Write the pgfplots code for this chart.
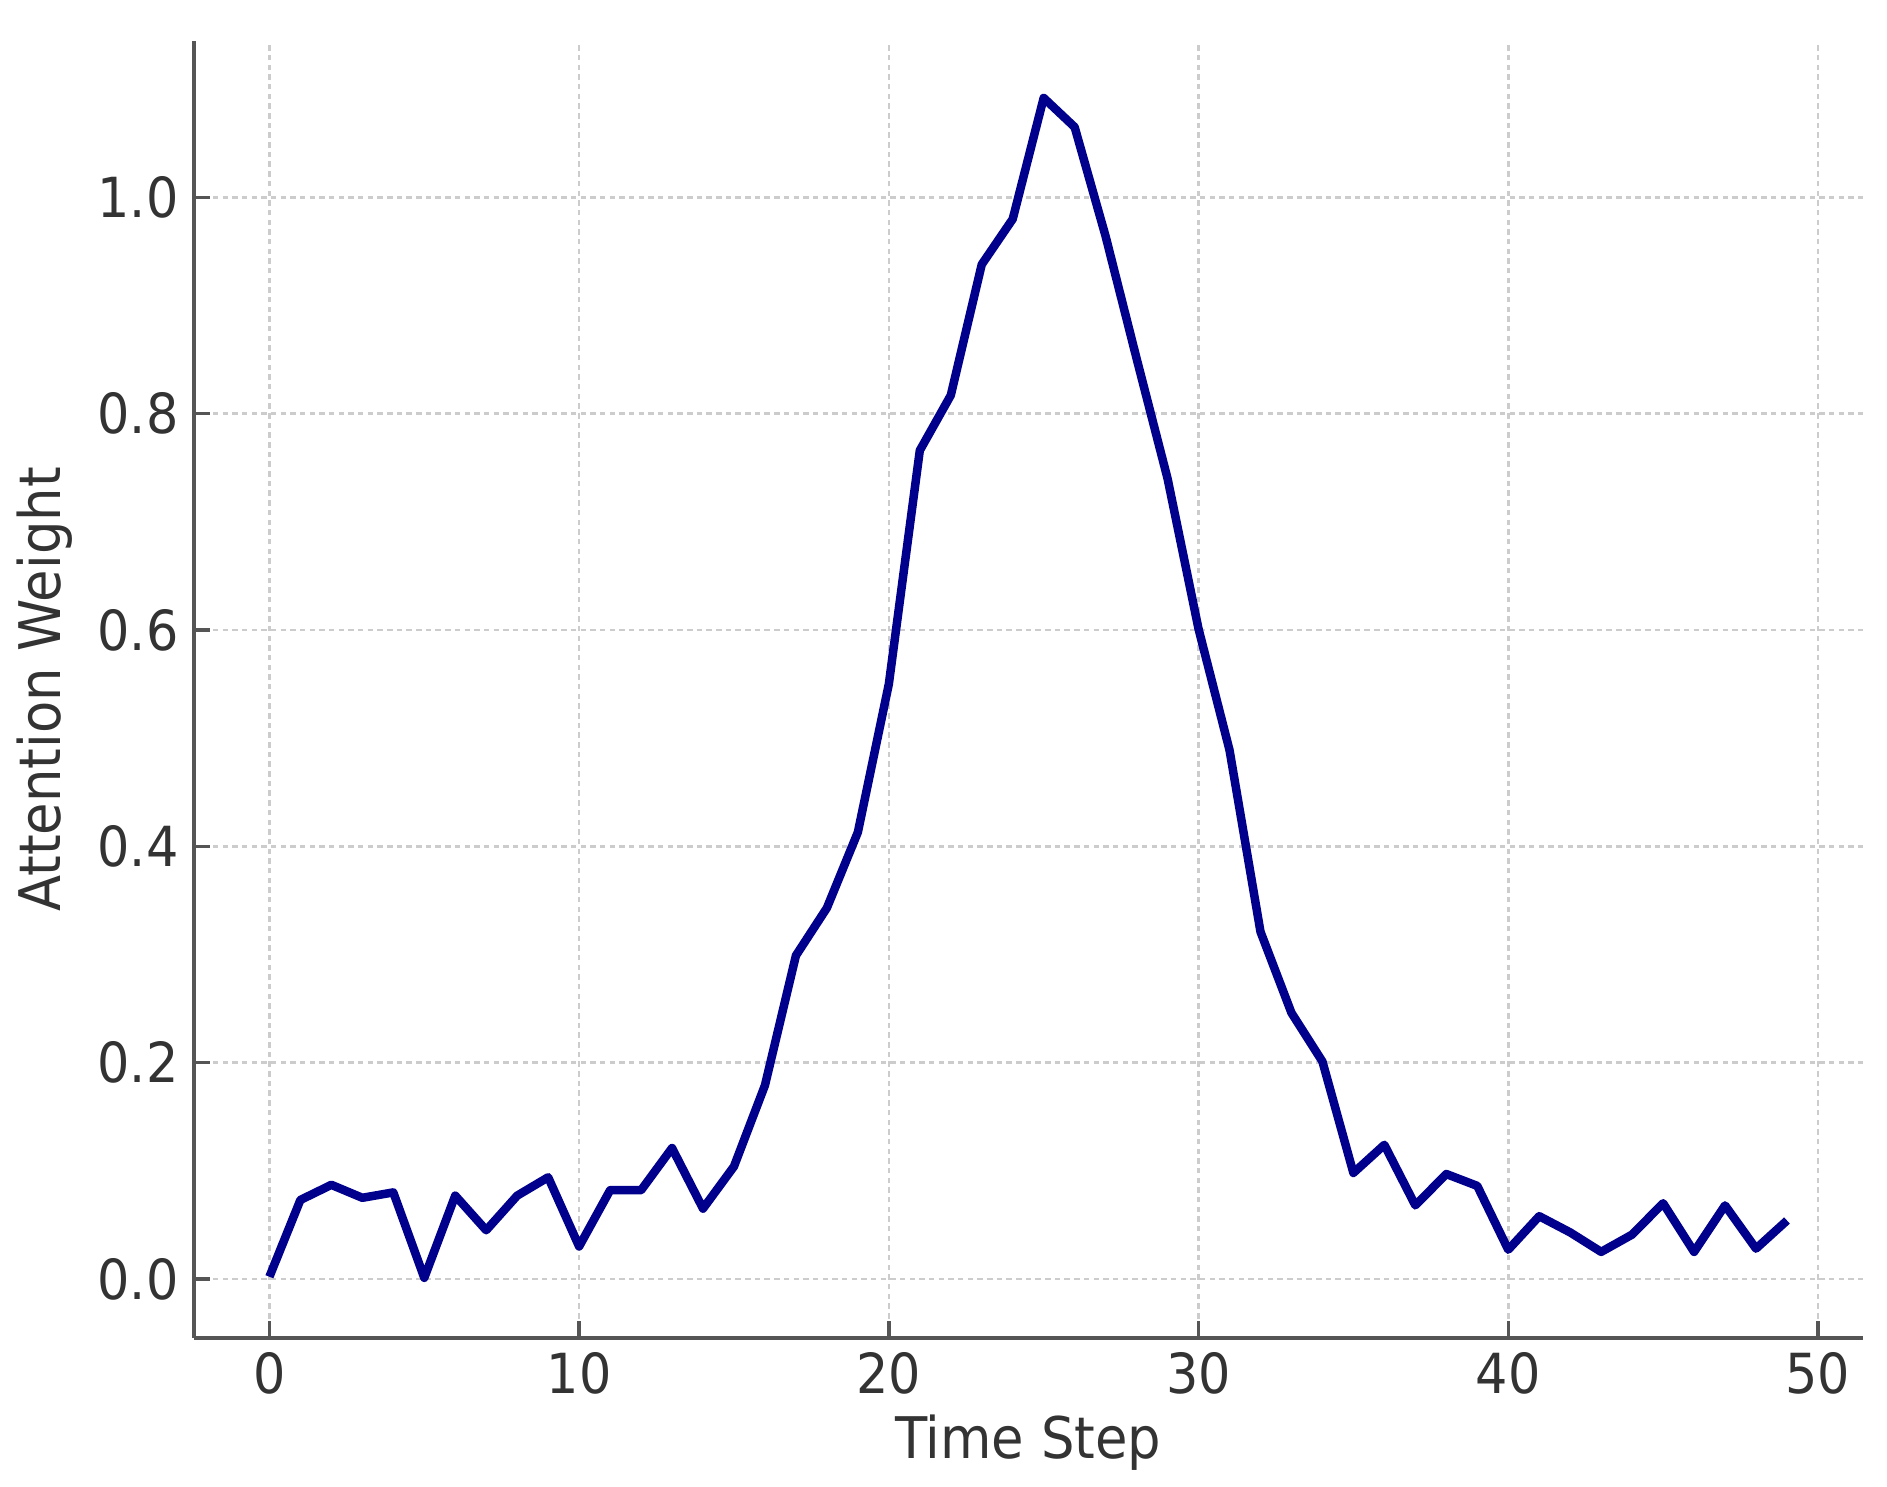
\documentclass[border=0pt]{standalone}
\usepackage{pgfplots}
\pgfplotsset{compat=1.18}
\usepackage{fontspec}
\setmainfont{DejaVu Sans}[FakeStretch=0.92]
\definecolor{spine}{HTML}{555555}
\definecolor{txt}{HTML}{333333}
\definecolor{gridc}{HTML}{CCCCCC}
\begin{document}
\begin{tikzpicture}
\begin{axis}[
  scale only axis,
  width=13.8cm, height=10.72cm,
  xmin=-2.45, xmax=51.45,
  ymin=-0.0545, ymax=1.1445,
  axis x line=bottom, axis y line=left,
  axis line style={-, spine, line width=0.95pt},
  xtick={0,10,20,30,40,50},
  ytick={0,0.2,0.4,0.6,0.8,1.0},
  tick align=inside,
  major tick length=0.14cm,
  tick style={spine, line width=0.8pt},
  grid=major,
  major grid style={gridc, line width=0.6pt, dash pattern=on 0.045cm off 0.035cm},
  /pgf/number format/assume math mode=true,
  yticklabel style={/pgf/number format/fixed, /pgf/number format/fixed zerofill, /pgf/number format/precision=1, font=\fontsize{13}{15}\selectfont, text=txt},
  xticklabel style={font=\fontsize{13}{15}\selectfont, text=txt},
  xlabel={Time Step},
  ylabel={Attention Weight},
  xlabel style={at={(axis description cs:0.5,0)}, anchor=center, yshift=-0.87cm, font=\fontsize{13.5}{15}\selectfont, text=txt},
  ylabel style={at={(axis description cs:0,0.5)}, anchor=center, yshift=1.23cm, font=\fontsize{13.5}{15}\selectfont, text=txt},
  clip=false,
]
\addplot[color={rgb,255:red,0;green,0;blue,140}, line width=2pt, line join=round] coordinates {
(0,0.002) (1,0.073) (2,0.087) (3,0.075) (4,0.080) (5,0.001) (6,0.077) (7,0.045) (8,0.077) (9,0.094)
(10,0.030) (11,0.082) (12,0.082) (13,0.121) (14,0.065) (15,0.104) (16,0.179) (17,0.299) (18,0.343) (19,0.413)
(20,0.550) (21,0.766) (22,0.817) (23,0.938) (24,0.980) (25,1.092) (26,1.065) (27,0.964) (28,0.851) (29,0.740)
(30,0.601) (31,0.489) (32,0.321) (33,0.246) (34,0.201) (35,0.098) (36,0.124) (37,0.068) (38,0.097) (39,0.086)
(40,0.027) (41,0.058) (42,0.043) (43,0.025) (44,0.041) (45,0.070) (46,0.025) (47,0.068) (48,0.028) (49,0.054)
};
\end{axis}
\path[use as bounding box] (-1.6cm,-1.23cm) rectangle (14.0cm,11.06cm);
\end{tikzpicture}
\end{document}
